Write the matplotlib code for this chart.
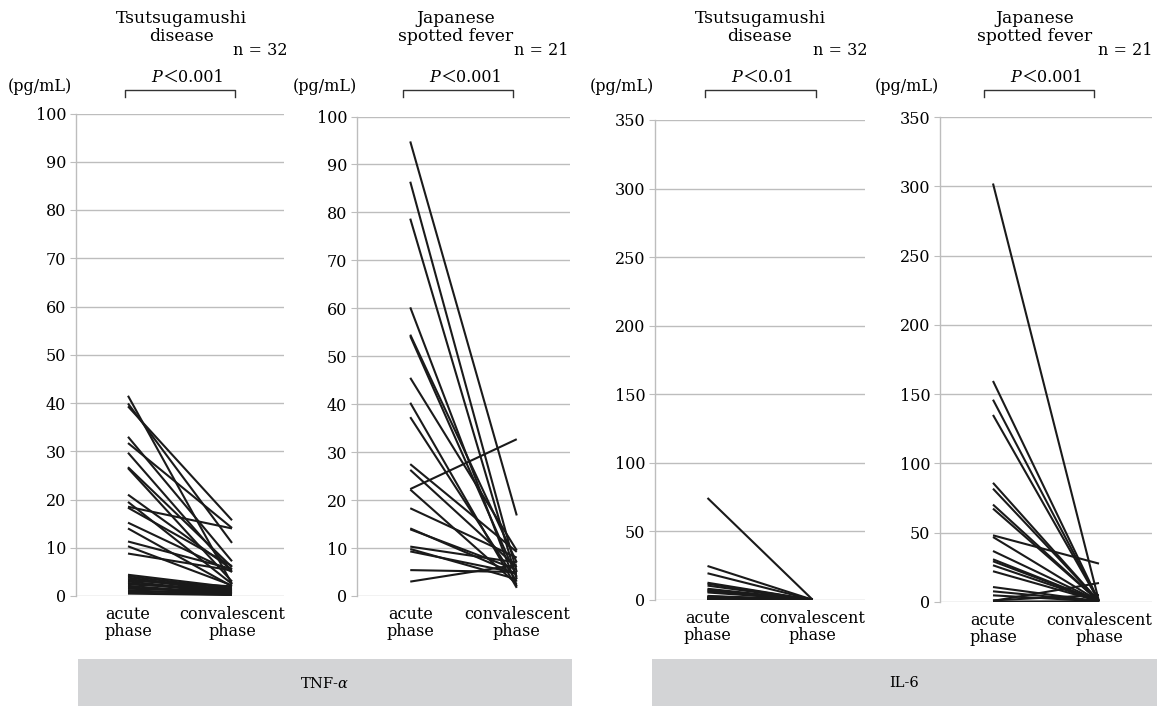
import matplotlib
matplotlib.use("Agg")
import matplotlib.pyplot as plt
from matplotlib.patches import Rectangle

# ---- data (pg/mL), paired acute / convalescent values ----
phases = ["acute\nphase", "convalescent\nphase"]

tnf_tsutsu_acute = [41.5, 39.9, 39.3, 33.0, 31.7, 29.7, 26.7, 26.5, 21.0, 19.5, 18.5, 18.3,
                    15.2, 14.0, 11.3, 10.3, 8.8, 4.4, 4.1, 3.8, 3.5, 3.2, 3.0, 2.7, 2.4,
                    2.1, 1.8, 1.5, 1.2, 1.0, 0.7, 0.5]
tnf_tsutsu_conv = [2.5, 11.0, 15.7, 7.2, 14.1, 5.0, 6.0, 3.0, 5.5, 2.5, 14.0, 6.2,
                   5.0, 2.0, 5.6, 2.2, 5.3, 1.8, 1.5, 1.2, 1.0, 2.0, 0.8, 0.6, 1.4,
                   0.5, 0.4, 1.0, 0.3, 0.7, 0.3, 0.2]

tnf_jsf_acute = [94.8, 86.4, 78.7, 60.2, 54.5, 54.2, 45.5, 40.3, 37.3, 27.5, 26.3,
                 22.3, 22.2, 18.3, 14.1, 13.9, 10.3, 9.8, 9.3, 5.4, 3.0]
tnf_jsf_conv = [16.8, 5.0, 3.5, 2.0, 7.0, 4.0, 9.5, 1.7, 3.0, 9.2, 6.0,
                32.7, 2.5, 8.0, 4.5, 5.5, 7.0, 3.5, 4.8, 5.0, 6.5]

il6_tsutsu_acute = [74.4, 24.8, 19.5, 12.6, 11.8, 10.5, 8.2, 7.5, 6.8, 6.2, 5.5,
                    3.0, 2.6, 2.2, 2.0, 1.8, 1.6, 1.4, 1.2, 1.0, 0.9, 0.8, 0.7,
                    0.6, 0.5, 0.4, 0.3, 0.3, 0.2, 0.2, 0.1, 0.1]
il6_tsutsu_conv = [0.3, 0.2, 0.2, 0.1, 0.1, 0.1, 0.1, 0.1, 0.1, 0.1, 0.1,
                   0.1, 0.1, 0.1, 0.1, 0.1, 0.1, 0.1, 0.1, 0.1, 0.1, 0.1, 0.1,
                   0.1, 0.1, 0.1, 0.1, 0.1, 0.1, 0.1, 0.1, 0.1]

il6_jsf_acute = [302.0, 159.5, 146.0, 135.0, 86.0, 81.8, 70.3, 67.4, 48.1, 46.9, 36.8,
                 30.8, 29.4, 26.5, 22.2, 10.8, 7.7, 4.8, 1.2, 0.8, 0.3]
il6_jsf_conv = [0.5, 0.5, 0.5, 0.5, 0.5, 0.5, 0.5, 0.5, 27.7, 0.5, 0.5,
                0.5, 0.5, 0.5, 0.5, 0.5, 0.5, 0.5, 5.0, 13.7, 0.5]

panels = [
    dict(acute=tnf_tsutsu_acute, conv=tnf_tsutsu_conv, ymax=100, step=10,
         title="Tsutsugamushi\ndisease", n="n = 32", p="＜0.001"),
    dict(acute=tnf_jsf_acute, conv=tnf_jsf_conv, ymax=100, step=10,
         title="Japanese\nspotted fever", n="n = 21", p="＜0.001"),
    dict(acute=il6_tsutsu_acute, conv=il6_tsutsu_conv, ymax=350, step=50,
         title="Tsutsugamushi\ndisease", n="n = 32", p="＜0.01"),
    dict(acute=il6_jsf_acute, conv=il6_jsf_conv, ymax=350, step=50,
         title="Japanese\nspotted fever", n="n = 21", p="＜0.001"),
]

# axes boxes in pixels: left, right, y of 0, y of ymax
boxes = [(76, 284, 596, 113.5), (357, 570, 596, 116.5),
         (655, 865, 600, 120), (940, 1152, 602, 117)]
# header anchors in pixels: title centre x, n left x, unit left x, bracket (x0, x1)
heads = [(181, 233, 8, (125, 235)), (456, 514, 293, (403, 513)),
         (760, 813, 590, (705, 816)), (1035, 1098, 875, (984, 1094))]

W, H = 1159, 706
FS = 11.5
SERIF = ["DejaVu Serif", "Noto Sans CJK JP"]
plt.rcParams["font.family"] = SERIF
plt.rcParams["mathtext.fontset"] = "dejavuserif"

fig = plt.figure(figsize=(W / 100, H / 100), dpi=100)


def fx(px):
    return px / W


def fy(py):
    return 1 - py / H


grid_c = "#bdbdbd"
line_c = "#1a1a1a"

for panel, box, head in zip(panels, boxes, heads):
    x0, x1, y0, y1 = box
    ax = fig.add_axes([fx(x0), fy(y0), fx(x1 - x0), (y0 - y1) / H])
    for a, c in zip(panel["acute"], panel["conv"]):
        ax.plot([0, 1], [a, c], color=line_c, linewidth=1.5, solid_capstyle="butt")
    ax.set_xlim(-0.5, 1.5)
    ax.set_ylim(0, panel["ymax"])
    ax.set_yticks(range(0, panel["ymax"] + 1, panel["step"]))
    ax.yaxis.grid(True, color=grid_c, linewidth=1.0)
    ax.set_axisbelow(True)
    for side in ("top", "right", "bottom"):
        ax.spines[side].set_visible(False)
    ax.spines["left"].set_color(grid_c)
    ax.spines["left"].set_linewidth(1.0)
    ax.tick_params(axis="y", length=4, color=grid_c, labelsize=FS, pad=3)
    ax.set_xticks([0, 1])
    ax.set_xticklabels(phases, fontsize=FS, linespacing=1.05)
    ax.tick_params(axis="x", length=0, pad=7)

    tx, nx, ux, (bx0, bx1) = head
    fig.text(fx(tx), fy(10), panel["title"], ha="center", va="top",
             fontsize=12.3, linespacing=1.1)
    fig.text(fx(nx), fy(55), panel["n"], ha="left", va="baseline", fontsize=FS)
    fig.text(fx(ux), fy(91), "(pg/mL)", ha="left", va="baseline", fontsize=FS)
    pc = (bx0 + bx1) / 2 - 18
    fig.text(fx(pc), fy(82), "P", ha="right", va="baseline", fontsize=FS,
             style="italic")
    fig.text(fx(pc), fy(82), panel["p"], ha="left", va="baseline", fontsize=FS)
    fig.add_artist(plt.Line2D([fx(bx0), fx(bx0), fx(bx1), fx(bx1)],
                              [fy(97), fy(90), fy(90), fy(97)],
                              transform=fig.transFigure, color="#333333",
                              linewidth=1.0))

# bottom gray label bars
for (bx0, bx1), label in [((78, 572), "TNF-$\\alpha$"), ((652, 1157), "IL-6")]:
    fig.add_artist(Rectangle((fx(bx0), 0), fx(bx1 - bx0), fy(659),
                             transform=fig.transFigure, facecolor="#d3d4d6",
                             edgecolor="none"))
    fig.text(fx((bx0 + bx1) / 2), fy(683), label, ha="center", va="center",
             fontsize=FS - 1)

fig.savefig("out.png", dpi=100)
